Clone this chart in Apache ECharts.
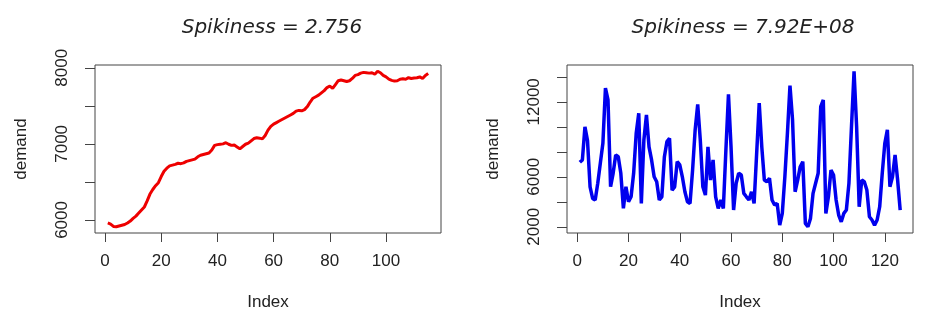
<!DOCTYPE html>
<html>
<head>
<meta charset="utf-8">
<script src="https://cdn.jsdelivr.net/npm/echarts@6/dist/echarts.min.js"></script>
<style>
    html, body {margin: 0; padding: 0; background: #fff;}
    #chart {width: 941px; height: 324px;}
</style>
</head>
<body>
<div id="chart"></div>
<script>
const TITLES = ['Spikiness = 2.756', 'Spikiness = 7.92E+08'];

// demand, index 1..115 (smooth, trending)
const demandSmooth = [
    5960, 5945, 5915, 5910, 5920, 5930, 5940, 5960, 5985, 6020,
    6050, 6090, 6130, 6170, 6250, 6340, 6400, 6450, 6490, 6570,
    6640, 6680, 6710, 6720, 6730, 6745, 6740, 6750, 6770, 6780,
    6790, 6800, 6830, 6850, 6860, 6870, 6880, 6920, 6980, 6990,
    6995, 7000, 7015, 6995, 6980, 6985, 6960, 6935, 6965, 6995,
    7010, 7040, 7070, 7080, 7075, 7065, 7110, 7180, 7230, 7260,
    7280, 7300, 7320, 7340, 7360, 7380, 7400, 7430, 7440, 7435,
    7450, 7490, 7550, 7600, 7620, 7640, 7670, 7700, 7740, 7760,
    7730, 7780, 7830, 7840, 7830, 7820, 7830, 7860, 7900, 7910,
    7930, 7940, 7935, 7930, 7935, 7915, 7955, 7935, 7900, 7880,
    7850, 7835, 7825, 7830, 7850, 7855, 7850, 7870, 7860, 7865,
    7870, 7880, 7860, 7900, 7925
];

// demand, index 1..126 (spiky)
const demandSpiky = [
    7160, 7350, 10000, 8900, 5200, 4270, 4140, 5480, 7080, 8680,
    13100, 12150, 5200, 6280, 7750, 7610, 6280, 3470, 5200, 4000,
    4400, 6280, 9480, 11090, 3870, 8950, 10950, 8400, 7350, 6000,
    5600, 4140, 4400, 7610, 8820, 9080, 4940, 5200, 7210, 6950,
    6000, 4800, 4000, 3870, 6540, 9750, 11800, 8950, 5200, 4540,
    8400, 5740, 7350, 4400, 3470, 4140, 3470, 8150, 12600, 8400,
    3340, 5480, 6280, 6140, 4670, 4400, 4140, 4800, 3870, 7880,
    11900, 8400, 5740, 5600, 5880, 4140, 3740, 3870, 2130, 3070,
    6000, 9480, 13300, 10550, 4800, 5740, 6810, 7210, 2270, 2000,
    2670, 4670, 5480, 6280, 11620, 12150, 3070, 4400, 6540, 6140,
    4140, 2940, 2400, 3070, 3340, 5480, 10020, 14450, 10020, 3600,
    5740, 5600, 4940, 2800, 2540, 2130, 2540, 3600, 6280, 8680,
    9750, 5200, 6000, 7750, 5740, 3340
];

const xTicksLeft = [0, 20, 40, 60, 80, 100];
const xTicksRight = [0, 20, 40, 60, 80, 100, 120];
const yTicksLeft = [6000, 6500, 7000, 7500, 8000];
const yLabelsLeft = [6000, 7000, 8000];
const yTicksRight = [2000, 4000, 6000, 8000, 10000, 12000, 14000];
const yLabelsRight = [2000, 6000, 12000];

const FONT = 'Liberation Sans';
const INK = '#222';
const BOX = '#444';

function toPoints(arr) {
    return arr.map(function (v, i) {
        return [i + 1, v];
    });
}

// R pads each axis range by 4%
function padded(lo, hi) {
    let d = (hi - lo) * 0.04;
    return [lo - d, hi + d];
}

function plain(v) {
    return String(v);
}

function xAxisFor(gridIndex, n, ticks) {
    let r = padded(1, n);
    return {
        type: 'value', gridIndex: gridIndex, min: r[0], max: r[1],
        name: 'Index', nameLocation: 'middle', nameGap: 61,
        nameTextStyle: {fontSize: 17, color: INK, fontFamily: FONT},
        axisLine: {show: false, onZero: false},
        splitLine: {show: false},
        axisTick: {show: true, customValues: ticks, length: 9, lineStyle: {color: BOX}},
        axisLabel: {customValues: ticks, formatter: plain, margin: 20, fontSize: 17, color: INK, fontFamily: FONT}
    };
}

function yAxisFor(gridIndex, data, ticks, labels) {
    let r = padded(Math.min.apply(null, data), Math.max.apply(null, data));
    return {
        type: 'value', gridIndex: gridIndex, min: r[0], max: r[1],
        name: 'demand', nameLocation: 'middle', nameGap: 65,
        nameTextStyle: {fontSize: 17, color: INK, fontFamily: FONT},
        axisLine: {show: false, onZero: false},
        splitLine: {show: false},
        axisTick: {show: true, customValues: ticks, length: 10, lineStyle: {color: BOX}},
        axisLabel: {customValues: labels, formatter: plain, rotate: 90, margin: 24, fontSize: 17, color: INK, fontFamily: FONT}
    };
}

let myChart = echarts.init(document.getElementById('chart'));

let option = {
    animation: false,
    backgroundColor: '#fff',
    title: [
        {text: TITLES[0], left: 267, top: 13, textAlign: 'center',
            textStyle: {fontSize: 20, fontStyle: 'italic', fontWeight: 'normal', color: INK, fontFamily: 'DejaVu Sans'}},
        {text: TITLES[1], left: 738, top: 13, textAlign: 'center',
            textStyle: {fontSize: 20, fontStyle: 'italic', fontWeight: 'normal', color: INK, fontFamily: 'DejaVu Sans'}}
    ],
    grid: [
        {left: 95, top: 65, width: 346, height: 168, show: true, borderColor: BOX, borderWidth: 1},
        {left: 567, top: 65, width: 346, height: 168, show: true, borderColor: BOX, borderWidth: 1}
    ],
    xAxis: [
        xAxisFor(0, demandSmooth.length, xTicksLeft),
        xAxisFor(1, demandSpiky.length, xTicksRight)
    ],
    yAxis: [
        yAxisFor(0, demandSmooth, yTicksLeft, yLabelsLeft),
        yAxisFor(1, demandSpiky, yTicksRight, yLabelsRight)
    ],
    series: [
        {
            type: 'line', xAxisIndex: 0, yAxisIndex: 0,
            data: toPoints(demandSmooth),
            symbol: 'none',
            lineStyle: {color: '#ee0000', width: 3}
        },
        {
            type: 'line', xAxisIndex: 1, yAxisIndex: 1,
            data: toPoints(demandSpiky),
            symbol: 'none',
            lineStyle: {color: '#0000ee', width: 3.5}
        }
    ]
};

myChart.setOption(option, true);
</script>
</body>
</html>
